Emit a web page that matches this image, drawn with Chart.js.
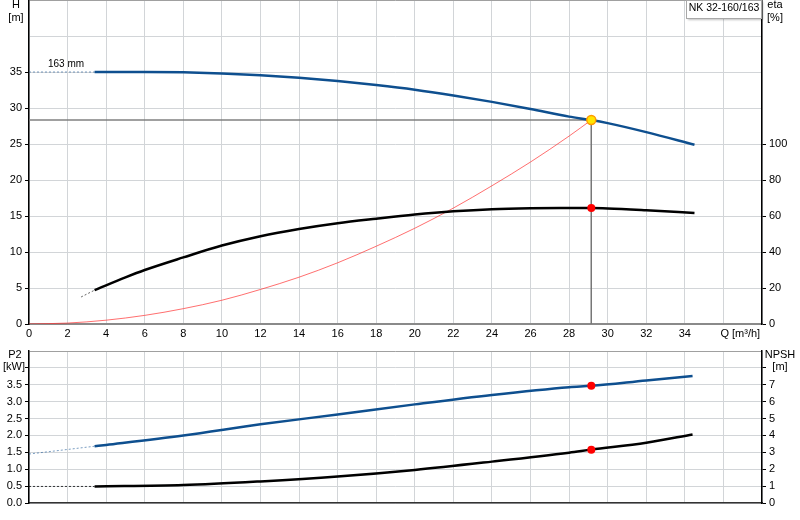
<!DOCTYPE html>
<html>
<head>
<meta charset="utf-8">
<script src="https://cdn.jsdelivr.net/npm/chart.js@4.4.1/dist/chart.umd.min.js"></script>
<style>
html,body{margin:0;padding:0;background:#fff;}
#wrap{position:relative;width:800px;height:520px;overflow:hidden;background:#fff;}
#c1{position:absolute;left:0;top:0;}
#c2{position:absolute;left:0;top:340px;}
</style>
</head>
<body>
<div id="wrap">
<canvas id="c1" width="800" height="345"></canvas>
<canvas id="c2" width="800" height="180"></canvas>
</div>
<script>
// ---- data ----
const xTickLabels = ['0','2','4','6','8','10','12','14','16','18','20','22','24','26','28','30','32','34'];
const opQ = [29.15];
const opH = [28.33];
const opEta = [64.4];
const opP2 = [3.47];
const opNPSH = [3.16];

const hDashQ = [0, 3.4];
const hDashH = [35.0, 35.0];
const hQ = [3.4, 6, 8, 10, 12, 14, 16, 18, 20, 22, 24, 26, 28, 29.15, 30, 32, 34.5];
const hH = [35.0, 35.0, 34.95, 34.8, 34.55, 34.2, 33.75, 33.2, 32.55, 31.75, 30.85, 29.85, 28.8, 28.33, 27.9, 26.65, 24.9];

const etaDashQ = [2.7, 3.4];
const etaDashV = [15.0, 18.8];
const etaQ = [3.4, 5, 6, 8, 10, 12, 14, 16, 18, 20, 22, 24, 26, 28, 29.15, 30, 32, 34.5];
const etaV = [18.8, 25.9, 30.0, 37.0, 43.6, 48.8, 52.8, 56.0, 58.5, 60.8, 62.6, 63.8, 64.3, 64.4, 64.4, 64.2, 63.2, 61.7];

const sysQ = [0, 2, 4, 6, 8, 10, 12, 14, 16, 18, 20, 22, 24, 26, 28, 29.15];
const sysH = [0, 0.13, 0.53, 1.2, 2.13, 3.3, 4.8, 6.5, 8.5, 10.8, 13.3, 16.1, 19.2, 22.5, 26.1, 28.33];

const p2DashQ = [0, 3.4];
const p2DashV = [1.45, 1.68];
const p2Q = [3.4, 4, 8, 12, 16, 20, 24, 28, 29.15, 32, 34.4];
const p2V = [1.68, 1.72, 2.0, 2.33, 2.62, 2.92, 3.2, 3.43, 3.47, 3.63, 3.76];

const npshDashQ = [0, 3.4];
const npshDashV = [0.98, 0.98];
const npshQ = [3.4, 8, 12, 16, 20, 24, 28, 29.15, 32, 34.4];
const npshV = [0.98, 1.06, 1.28, 1.57, 1.96, 2.45, 2.98, 3.16, 3.57, 4.06];

// ---- helpers ----
const zip = (xs, ys) => xs.map((x, i) => ({x: x, y: ys[i]}));
const FONT = '"Liberation Sans", Arial, sans-serif';
const BLUE = '#0e4f8f';
const GRID = '#d2d5d8';

Chart.defaults.font.family = FONT;
Chart.defaults.font.size = 11;
Chart.defaults.color = '#000';

function txt(ctx, s, x, y, align, size) {
  ctx.save();
  ctx.font = (size || 11) + 'px ' + FONT;
  ctx.fillStyle = '#000';
  ctx.textAlign = align || 'center';
  ctx.textBaseline = 'middle';
  ctx.fillText(s, x, y);
  ctx.restore();
}

const topTexts = {
  id: 'topTexts',
  afterDraw(chart) {
    const ctx = chart.ctx;
    const xs = chart.scales.x;
    txt(ctx, 'H', 16, 5);
    txt(ctx, '[m]', 16, 18);
    txt(ctx, 'eta', 775, 5);
    txt(ctx, '[%]', 775, 18);
    txt(ctx, '163 mm', 48, 64, 'left', 10);
    txt(ctx, 'Q [m³/h]', xs.getPixelForValue(36) - 3, 334, 'left');
    // legend box
    ctx.save();
    ctx.shadowColor = 'rgba(0,0,0,0.25)';
    ctx.shadowOffsetX = 1; ctx.shadowOffsetY = 1; ctx.shadowBlur = 2;
    ctx.fillStyle = '#fff';
    ctx.fillRect(686.5, 0.5, 75, 18);
    ctx.restore();
    ctx.save();
    ctx.strokeStyle = '#a8a8a8';
    ctx.lineWidth = 1;
    ctx.strokeRect(686.5, 0.5, 75, 18);
    ctx.restore();
    txt(ctx, 'NK 32-160/163', 724, 8, 'center', 10.5);
  }
};

const botTexts = {
  id: 'botTexts',
  afterDraw(chart) {
    const ctx = chart.ctx;
    txt(ctx, 'P2', 15, 15);
    txt(ctx, '[kW]', 14, 27);
    txt(ctx, 'NPSH', 780, 15);
    txt(ctx, '[m]', 780, 27);
  }
};

function yTickColor(limit) {
  return (c) => (c.tick && c.tick.value <= limit + 1e-9) ? '#000' : 'rgba(0,0,0,0)';
}
function fitY(w) {
  return (s) => { s.width = w; s.paddingTop = 0; s.paddingBottom = 0; };
}
function fitX(h) {
  return (s) => { s.height = h; s.paddingLeft = 0; s.paddingRight = 0; };
}

// ---- top chart ----
new Chart(document.getElementById('c1'), {
  type: 'line',
  data: {
    datasets: [
      { data: zip(opQ, opH), yAxisID: 'y', showLine: false, pointRadius: 4.5,
        pointBackgroundColor: '#ffe600', pointBorderColor: '#ff9a00', pointBorderWidth: 1.5 },
      { data: zip(opQ, opEta), yAxisID: 'eta', showLine: false, pointRadius: 4,
        pointBackgroundColor: '#ff0000', pointBorderColor: '#ff0000', pointBorderWidth: 0 },
      { data: zip(hQ, hH), yAxisID: 'y', borderColor: BLUE, borderWidth: 2.5, pointRadius: 0, cubicInterpolationMode: 'monotone' },
      { data: zip(hDashQ, hDashH), yAxisID: 'y', borderColor: 'rgba(14,79,143,0.55)', borderWidth: 1, borderDash: [2, 2], pointRadius: 0 },
      { data: zip(etaQ, etaV), yAxisID: 'eta', borderColor: '#000', borderWidth: 2.5, pointRadius: 0, cubicInterpolationMode: 'monotone' },
      { data: zip(etaDashQ, etaDashV), yAxisID: 'eta', borderColor: 'rgba(0,0,0,0.6)', borderWidth: 1, borderDash: [2, 2], pointRadius: 0 },
      { data: zip(sysQ, sysH), yAxisID: 'y', borderColor: 'rgba(255,50,50,0.7)', borderWidth: 1, pointRadius: 0, cubicInterpolationMode: 'monotone' },
      { data: [{x: 0, y: opH[0]}, {x: opQ[0], y: opH[0]}], yAxisID: 'y', borderColor: 'rgba(120,120,120,0.7)', borderWidth: 2, pointRadius: 0 },
      { data: [{x: opQ[0], y: opH[0]}, {x: opQ[0], y: 0}], yAxisID: 'y', borderColor: '#777', borderWidth: 1, pointRadius: 0 }
    ]
  },
  options: {
    responsive: false, animation: false, devicePixelRatio: 1,
    layout: { padding: 0, autoPadding: false },
    plugins: { legend: { display: false }, tooltip: { enabled: false } },
    scales: {
      x: {
        type: 'linear', min: 0, max: 38,
        afterFit: fitX(21),
        ticks: { stepSize: 2, padding: 3, maxRotation: 0, autoSkip: false,
          callback: (v) => (v <= 34 ? String(v) : '') },
        grid: { color: GRID, lineWidth: 1, drawTicks: false },
        border: { color: '#8a8a8a', width: 2 }
      },
      y: {
        position: 'left', min: 0, max: 45,
        afterFit: fitY(29),
        ticks: { stepSize: 5, padding: 3, callback: (v) => (v <= 35 ? String(v) : '') },
        grid: { color: (c) => (c.tick && c.tick.value === 45 ? '#a0a0a0' : GRID), lineWidth: 1,
          tickLength: 4, tickColor: yTickColor(35) },
        border: { color: '#000', width: 1.5 }
      },
      eta: {
        position: 'right', min: 0, max: 180,
        afterFit: fitY(38),
        ticks: { stepSize: 20, padding: 3, callback: (v) => (v <= 100 ? String(v) : '') },
        grid: { drawOnChartArea: false, tickLength: 4, tickColor: yTickColor(100) },
        border: { color: '#000', width: 1.5 }
      }
    }
  },
  plugins: [topTexts]
});

// ---- bottom chart ----
new Chart(document.getElementById('c2'), {
  type: 'line',
  data: {
    datasets: [
      { data: zip(opQ, opP2), yAxisID: 'y', showLine: false, pointRadius: 4,
        pointBackgroundColor: '#ff0000', pointBorderColor: '#ff0000', pointBorderWidth: 0 },
      { data: zip(opQ, opNPSH), yAxisID: 'npsh', showLine: false, pointRadius: 4,
        pointBackgroundColor: '#ff0000', pointBorderColor: '#ff0000', pointBorderWidth: 0 },
      { data: zip(p2Q, p2V), yAxisID: 'y', borderColor: BLUE, borderWidth: 2.5, pointRadius: 0, cubicInterpolationMode: 'monotone' },
      { data: zip(p2DashQ, p2DashV), yAxisID: 'y', borderColor: 'rgba(14,79,143,0.55)', borderWidth: 1, borderDash: [2, 2], pointRadius: 0 },
      { data: zip(npshQ, npshV), yAxisID: 'npsh', borderColor: '#000', borderWidth: 2.5, pointRadius: 0, cubicInterpolationMode: 'monotone' },
      { data: zip(npshDashQ, npshDashV), yAxisID: 'npsh', borderColor: 'rgba(0,0,0,0.75)', borderWidth: 1, borderDash: [2, 2], pointRadius: 0 }
    ]
  },
  options: {
    responsive: false, animation: false, devicePixelRatio: 1,
    layout: { padding: { top: 11, left: 0, right: 0, bottom: 0 }, autoPadding: false },
    plugins: { legend: { display: false }, tooltip: { enabled: false } },
    scales: {
      x: {
        type: 'linear', min: 0, max: 38,
        afterFit: fitX(17),
        ticks: { stepSize: 2, display: false },
        grid: { color: GRID, lineWidth: 1, drawTicks: false },
        border: { color: '#333', width: 1.5 }
      },
      y: {
        position: 'left', min: 0, max: 4.5,
        afterFit: fitY(29),
        ticks: { stepSize: 0.5, padding: 3, callback: (v) => (v <= 3.5 ? v.toFixed(1) : '') },
        grid: { color: (c) => (c.tick && c.tick.value === 4.5 ? '#a0a0a0' : GRID), lineWidth: 1,
          tickLength: 4, tickColor: yTickColor(4.0) },
        border: { color: '#000', width: 1.5 }
      },
      npsh: {
        position: 'right', min: 0, max: 9,
        afterFit: fitY(38),
        ticks: { stepSize: 1, padding: 3, callback: (v) => (v <= 7 ? String(v) : '') },
        grid: { drawOnChartArea: false, tickLength: 4, tickColor: yTickColor(8) },
        border: { color: '#000', width: 1.5 }
      }
    }
  },
  plugins: [botTexts]
});
</script>
</body>
</html>
